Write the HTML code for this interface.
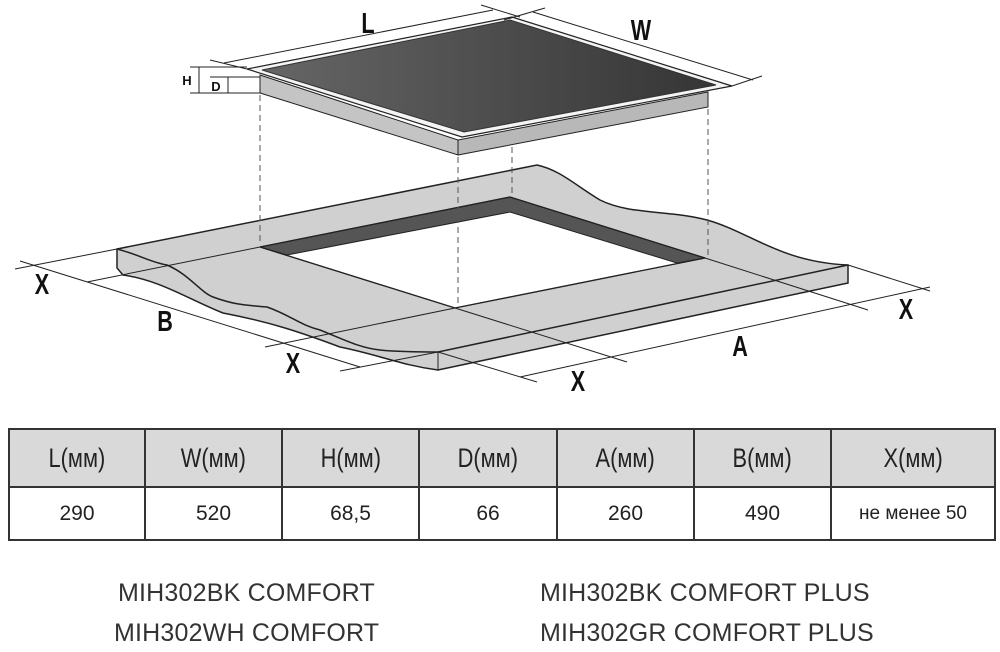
<!DOCTYPE html>
<html><head><meta charset="utf-8"><style>
html,body{margin:0;padding:0;background:#fff;}
body{width:1000px;height:652px;position:relative;overflow:hidden;font-family:"Liberation Sans","DejaVu Sans",sans-serif;}
svg{position:absolute;left:0;top:0;}
table{position:absolute;left:8px;top:428px;border-collapse:collapse;width:988px;}
td{border:2px solid #333;text-align:center;color:#222;font-size:21px;padding:0;}
tr.h td{background:#d9d9d9;height:56px;font-size:23px;}
tr.h td span{display:inline-block;transform:scale(0.95,1.15);}
tr.d td{height:51px;}
.m{position:absolute;font-size:25px;color:#333;letter-spacing:0.2px;}
</style></head><body>
<svg width="1000" height="420" viewBox="0 0 1000 420">
<defs><linearGradient id="g" x1="0" x2="1" y1="0" y2="0"><stop offset="0" stop-color="#666"/><stop offset="1" stop-color="#353535"/></linearGradient></defs>
<g stroke="#222" stroke-width="1" fill="none">
<path d="M117,249 L537,165 C560,170 575,185 600,200 C630,215 670,210 707,220 C750,232 780,262 848,265 L848,283 L438,370 C400,365 380,355 340,347 C300,332 270,322 223,313 C190,300 160,280 123,275 L117,268 Z" fill="#d0d0d0" stroke-width="1.5"/>
<path d="M117,249 C140,255 150,262 167,265 C190,275 200,292 213,297 C235,305 245,305 267,307 C290,315 300,325 320,330 C345,340 360,348 380,350 C400,352 420,352 438,352 L848,265" stroke-width="1.5"/>
<line x1="438" y1="352" x2="438" y2="370"/>
<polygon points="260,247 510,197 705,258 455,308" fill="#fff"/>
<polygon points="260,247 510,197 705,258 677,263 510,212 287,255" fill="#555"/>
<polygon points="260,247 510,197 705,258 455,308" stroke-width="1.3"/>
<line x1="15" y1="269" x2="117" y2="249"/>
<line x1="87" y1="282" x2="260" y2="247"/>
<line x1="265" y1="347" x2="455" y2="308"/>
<line x1="340" y1="371" x2="438" y2="352"/>
<line x1="455" y1="308" x2="627" y2="362"/>
<line x1="438" y1="352" x2="537" y2="382"/>
<line x1="705" y1="258" x2="868" y2="310"/>
<line x1="848" y1="265" x2="930" y2="291"/>
<line x1="20" y1="261" x2="360" y2="367"/>
<line x1="520" y1="377" x2="930" y2="287"/>
<polygon points="260,75 458,140 458,155 260,93" fill="#c4c4c4"/>
<polygon points="458,140 708,92 708,107 458,155" fill="#b8b8b8"/>
<polygon points="247,69 512,17 732,86 462,137" fill="#f4f4f4" stroke-width="1.2"/>
<polygon points="262,70 510,20 716,85 464,132" fill="url(#g)" stroke="#333"/>
<line x1="224" y1="63" x2="493" y2="10"/>
<line x1="210" y1="60" x2="247" y2="69"/>
<line x1="481" y1="5" x2="520" y2="17"/>
<line x1="533" y1="12" x2="753" y2="80"/>
<line x1="504" y1="20" x2="545" y2="8"/>
<line x1="732" y1="86" x2="762" y2="76"/>
<line x1="190" y1="67" x2="247" y2="67"/>
<line x1="210" y1="77" x2="260" y2="77"/>
<line x1="190" y1="93" x2="260" y2="93"/>
<line x1="199" y1="67" x2="199" y2="93"/>
<line x1="228" y1="77" x2="228" y2="93"/>
</g>
<g stroke="#555" stroke-width="1" stroke-dasharray="6,4">
<line x1="260" y1="95" x2="260" y2="245"/>
<line x1="458" y1="157" x2="458" y2="306"/>
<line x1="512" y1="147" x2="512" y2="196"/>
<line x1="708" y1="109" x2="708" y2="257"/>
</g>
<g font-family="Liberation Sans,sans-serif" font-weight="bold" fill="#111" font-size="27" text-anchor="middle">
<text transform="translate(368,33) scale(0.8,1.05)">L</text>
<text transform="translate(641,40) scale(0.8,1.05)">W</text>
<text transform="translate(42,294) scale(0.8,1.05)">X</text>
<text transform="translate(165,331) scale(0.8,1.05)">B</text>
<text transform="translate(293,373) scale(0.8,1.05)">X</text>
<text transform="translate(578,391) scale(0.8,1.05)">X</text>
<text transform="translate(740,356) scale(0.8,1.05)">A</text>
<text transform="translate(906,319) scale(0.8,1.05)">X</text>
<text x="187" y="85" font-size="13">H</text>
<text x="216" y="91" font-size="13">D</text>
</g>
</svg>
<table>
<tr class="h"><td style="width:134px"><span>L(мм)</span></td><td style="width:135px"><span>W(мм)</span></td><td style="width:135px"><span>H(мм)</span></td><td style="width:136px"><span>D(мм)</span></td><td style="width:135px"><span>A(мм)</span></td><td style="width:135px"><span>B(мм)</span></td><td><span>X(мм)</span></td></tr>
<tr class="d"><td>290</td><td>520</td><td>68,5</td><td>66</td><td>260</td><td>490</td><td style="font-size:19px">не менее 50</td></tr>
</table>
<div class="m" style="left:118px;top:579px">MIH302BK COMFORT</div>
<div class="m" style="left:114px;top:619px">MIH302WH COMFORT</div>
<div class="m" style="left:540px;top:579px">MIH302BK COMFORT PLUS</div>
<div class="m" style="left:540px;top:619px">MIH302GR COMFORT PLUS</div>
</body></html>
